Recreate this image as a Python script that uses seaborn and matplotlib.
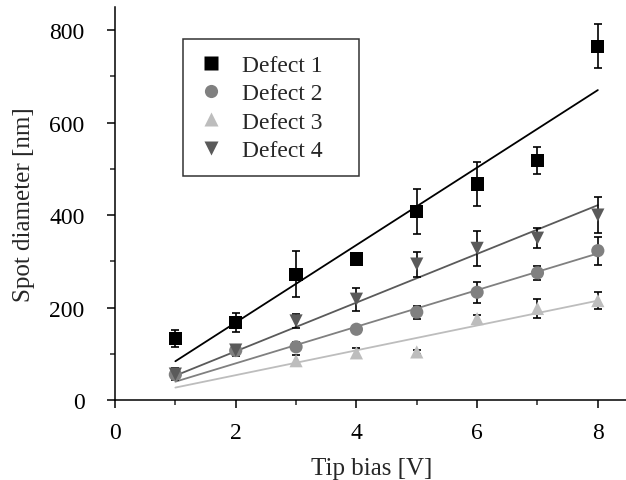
import numpy as np
import pandas as pd
import matplotlib
matplotlib.use("Agg")
import matplotlib.pyplot as plt
import seaborn as sns

bias = [1, 2, 3, 4, 5, 6, 7, 8]
series_names = ["Defect 1", "Defect 2", "Defect 3", "Defect 4"]
d1 = [133, 168, 272, 305, 408, 467, 518, 765]
d1_err = [19, 20, 50, 11, 49, 47, 30, 48]
d2 = [55, 107, 115, 153, 190, 233, 275, 323]
d2_err = [8, 8, 10, 8, 14, 23, 15, 30]
d3 = [np.nan, np.nan, 85, 102, 104, 176, 198, 215]
d3_err = [np.nan, np.nan, 12, 10, 5, 7, 20, 18]
d4 = [56, 108, 171, 218, 294, 328, 350, 400]
d4_err = [13, 12, 16, 25, 27, 38, 22, 38]

colors = {"Defect 1": "#000000", "Defect 2": "#808080",
          "Defect 3": "#bdbdbd", "Defect 4": "#5a5a5a"}
markers = {"Defect 1": "s", "Defect 2": "o", "Defect 3": "^", "Defect 4": "v"}

vals = [d1, d2, d3, d4]
errs = [d1_err, d2_err, d3_err, d4_err]
rows = []
for name, v, e in zip(series_names, vals, errs):
    for x, y, s in zip(bias, v, e):
        rows.append({"bias": x, "diam": y, "err": s, "defect": name})
df = pd.DataFrame(rows)

# linear fits through the origin
fit_rows = []
for name, v in zip(series_names, vals):
    xv = np.array(bias, float); yv = np.array(v, float)
    m = ~np.isnan(yv)
    slope = np.sum(xv[m] * yv[m]) / np.sum(xv[m] ** 2)
    for x in (bias[0], bias[-1]):
        fit_rows.append({"bias": x, "diam": slope * x, "defect": name})
fit = pd.DataFrame(fit_rows)

sns.set_style("ticks")
plt.rcParams["font.family"] = ["Liberation Serif", "DejaVu Serif"]

fig = plt.figure(figsize=(6.26, 4.81), dpi=100)
ax = fig.add_axes([115 / 626, 80 / 481, 513 / 626, 393 / 481])

sns.lineplot(data=fit, x="bias", y="diam", hue="defect", palette=colors,
             legend=False, ax=ax, linewidth=1.3)
for name in series_names:
    sub = df[df.defect == name].dropna()
    ax.errorbar(sub.bias, sub.diam, yerr=sub.err, fmt="none", ecolor="black",
                elinewidth=1.2, capsize=3, capthick=1.2, zorder=3)
sns.scatterplot(data=df.dropna(), x="bias", y="diam", hue="defect", style="defect",
                palette=colors, markers=markers, s=90, edgecolor="none",
                ax=ax, zorder=4, hue_order=series_names, style_order=series_names)

ax.set_xlim(0, 8.5)
ax.set_ylim(0, 850)
ax.set_xticks([0, 2, 4, 6, 8])
ax.set_xticks([1, 3, 5, 7], minor=True)
ax.set_yticks([0, 200, 400, 600, 800])
ax.set_yticks([100, 300, 500, 700], minor=True)
ax.tick_params(which="major", direction="out", length=6, width=1.1,
               labelsize=17, colors="black")
ax.tick_params(axis="x", which="major", pad=10)
ax.tick_params(axis="y", which="major", pad=16)
ax.tick_params(which="minor", direction="out", length=3.5, width=1.1)
for s in ["top", "right"]:
    ax.spines[s].set_visible(False)
for s in ["left", "bottom"]:
    ax.spines[s].set_linewidth(1.1)
    ax.spines[s].set_color("black")
ax.set_xlabel("Tip bias [V]", fontsize=18, labelpad=10)
ax.set_ylabel("Spot diameter [nm]", fontsize=18, labelpad=10)

leg = ax.legend(loc="upper left",
                bbox_to_anchor=(68 / 513, 1 - 32 / 393 - 0.01, 176 / 513, 0.01),
                mode="expand", borderaxespad=0,
                frameon=True, fancybox=False, fontsize=17, handletextpad=0.76,
                labelspacing=0.29, borderpad=0.65, handlelength=1.1)
leg.get_frame().set_edgecolor("black")
leg.get_frame().set_linewidth(1.1)
for h in leg.legend_handles:
    try:
        h.set_sizes([90])
    except Exception:
        pass

fig.savefig("out.png", dpi=100)
